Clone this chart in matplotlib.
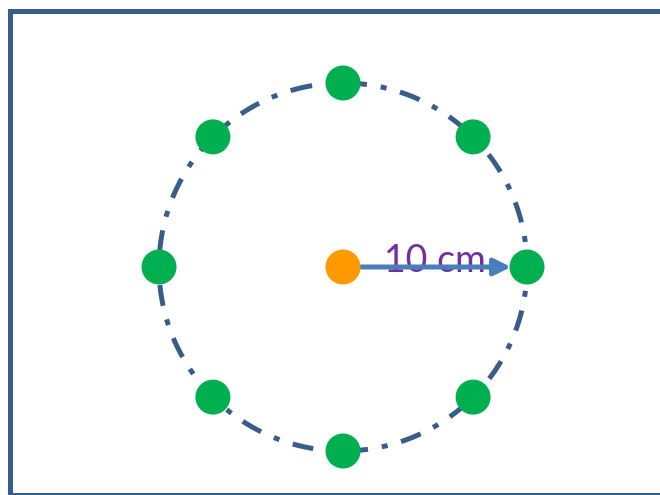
import numpy as np
import matplotlib
matplotlib.use("Agg")
import matplotlib.pyplot as plt
from matplotlib.patches import Circle, FancyArrowPatch

# ---- data ----
radius_cm = 10
dot_angles_deg = [0, 45, 90, 135, 180, 225, 270, 315]
label_text = "10 cm"

# ---- layout (pixel scale) ----
W, H = 660, 495
px_per_cm = 18.4
cx_px, cy_px = 343, 267

fig = plt.figure(figsize=(W / 100, H / 100), dpi=100)
ax = fig.add_axes([0, 0, 1, 1])
ax.set_xlim(-cx_px / px_per_cm, (W - cx_px) / px_per_cm)
ax.set_ylim(-(H - cy_px) / px_per_cm, cy_px / px_per_cm)
ax.axis("off")

pt = 72 / 100  # points per pixel
dark_blue = "#385D8A"

def px2x(x):
    return (x - cx_px) / px_per_cm

def px2y(y):
    return (cy_px - y) / px_per_cm

# border (open at right)
bx0, bx1 = px2x(10.5), px2x(700)
by0, by1 = px2y(10.5), px2y(495)
ax.plot([bx1, bx0, bx0, bx1], [by0, by0, by1, by1], color=dark_blue,
        lw=5 * pt, solid_joinstyle="miter", solid_capstyle="projecting",
        clip_on=False)

# dash-dot circle
t = np.linspace(0, 2 * np.pi, 721) + np.deg2rad(100)
ax.plot(radius_cm * np.cos(t), radius_cm * np.sin(t), color=dark_blue,
        lw=5 * pt, linestyle=(0, (4.2, 2.8, 1.2, 2.8)), dash_capstyle="butt")

# text (behind arrow)
ax.text(px2x(435), px2y(272), label_text, color="#7030A0", fontsize=27,
        family=["Lato", "DejaVu Sans"], ha="center", va="baseline", zorder=3)

# arrow
arr = FancyArrowPatch((0, 0), (px2x(511), 0), arrowstyle="-|>",
                      mutation_scale=25, lw=5 * pt, color="#4A7EBB",
                      shrinkA=0, shrinkB=0, zorder=4)
ax.add_patch(arr)

# green dots
dot_r = 17.5 / px_per_cm
for a in dot_angles_deg:
    ar = np.deg2rad(a)
    ax.add_patch(Circle((radius_cm * np.cos(ar), radius_cm * np.sin(ar)), dot_r,
                        color="#00B050", zorder=5, lw=0))

# orange center
ax.add_patch(Circle((0, 0), dot_r, color="#FF9900", zorder=5, lw=0))

ax.set_aspect("equal")
fig.savefig("out.png", dpi=100)
